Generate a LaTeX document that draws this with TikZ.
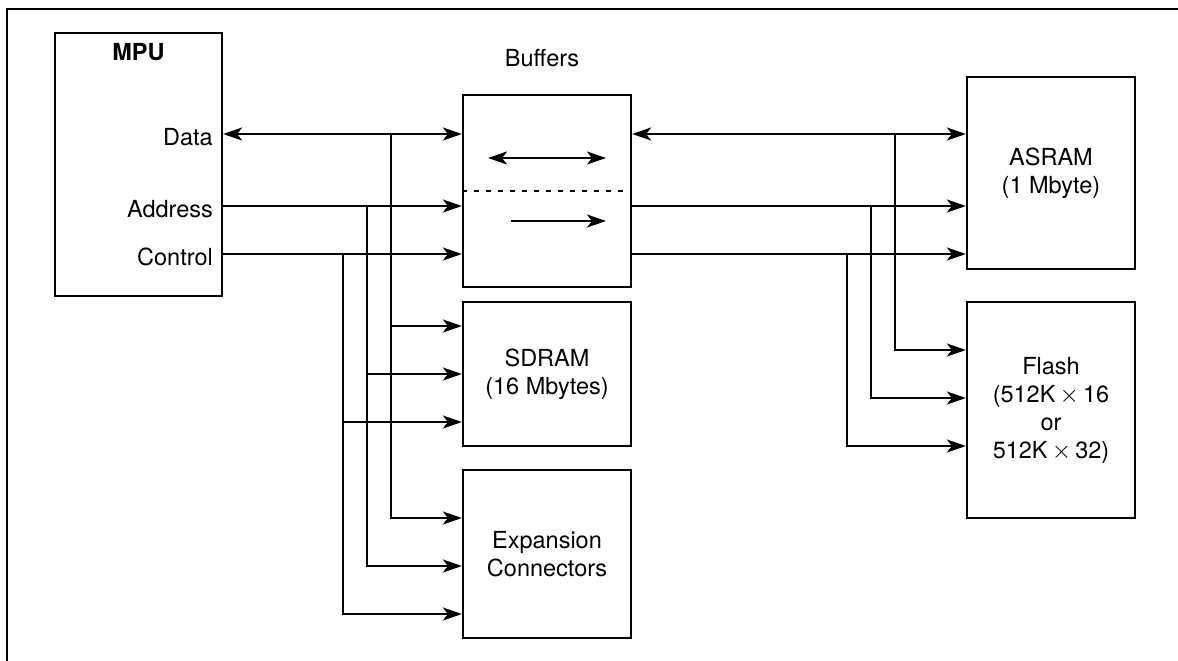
\documentclass[tikz,border=0pt]{standalone}
\usepackage{fontspec}
\setmainfont{TeX Gyre Heros}
\usetikzlibrary{arrows.meta}
\begin{document}
\begin{tikzpicture}[x=1pt,y=-1pt,
  txt/.style={font=\fontsize{23.5}{28}\selectfont, inner sep=0pt},
  blk/.style={draw, line width=2.2pt, txt, align=center, minimum width=168pt, anchor=center},
  bus/.style={line width=2.2pt},
  arr/.style={-{Stealth[length=19pt,width=13pt,inset=5pt]}},
  biarr/.style={{Stealth[length=19pt,width=13pt,inset=5pt]}-{Stealth[length=19pt,width=13pt,inset=5pt]}},
  dashline/.style={line width=2.2pt, dash pattern=on 5pt off 7pt},
]
\useasboundingbox (0,0) rectangle (1178,661);
% frame
\draw[line width=2.2pt] (1178,9) -- (7,9) -- (7,661);

% blocks
\node[blk, minimum width=167pt, minimum height=263pt] (mpu) at (138.5,164.5) {};
\node[txt, font=\fontsize{23.5}{28}\selectfont\bfseries, anchor=base] (mpuL) at (138.5,61) {MPU};
\node[txt, anchor=base east] (dataL) at (213,145) {Data};
\node[txt, anchor=base east] (addrL) at (213,217) {Address};
\node[txt, anchor=base east] (ctrlL) at (213,265) {Control};

\node[blk, minimum height=192pt] (buf) at (547,191) {};
\node[txt, anchor=base] (bufL) at (542,66.5) {Buffers};
\node[blk, minimum height=144pt] (sdram) at (547,374) {SDRAM\\(16 Mbytes)};
\node[blk, minimum height=168pt] (exp) at (547,554) {Expansion\\Connectors};
\node[blk, minimum height=192pt] (asram) at (1051,173) {ASRAM\\(1 Mbyte)};
\node[blk, minimum height=216pt] (flash) at (1051,410) {Flash\\(512K$\,\times\,$16\\or\\512K$\,\times\,$32)};

% inside buffers
\coordinate (bi1) at (488,158);
\coordinate (bi2) at (606,158);
\coordinate (bo1) at (511,221);
\coordinate (bo2) at (606,221);
\draw[bus,biarr] (bi1) -- (bi2);
\draw[bus,arr] (bo1) -- (bo2);
\draw[dashline] (buf.west |- 0,191) -- (buf.east |- 0,191);

% bus levels
\coordinate (yD) at (0,134);
\coordinate (yA) at (0,206);
\coordinate (yC) at (0,254);

% left buses
\draw[bus,biarr] (mpu.east |- yD) -- (buf.west |- yD);
\draw[bus,arr] (mpu.east |- yA) -- (buf.west |- yA);
\draw[bus,arr] (mpu.east |- yC) -- (buf.west |- yC);

\coordinate (lD) at (391,134);
\coordinate (lA) at (367,206);
\coordinate (lC) at (343,254);
\draw[bus,arr] (lD) |- (sdram.west |- 0,326);
\draw[bus,arr] (lD) |- (exp.west |- 0,518);
\draw[bus,arr] (lA) |- (sdram.west |- 0,374);
\draw[bus,arr] (lA) |- (exp.west |- 0,566);
\draw[bus,arr] (lC) |- (sdram.west |- 0,422);
\draw[bus,arr] (lC) |- (exp.west |- 0,614);

% right buses
\draw[bus,biarr] (buf.east |- yD) -- (asram.west |- yD);
\draw[bus,arr] (buf.east |- yA) -- (asram.west |- yA);
\draw[bus,arr] (buf.east |- yC) -- (asram.west |- yC);

\coordinate (rD) at (895,134);
\coordinate (rA) at (871,206);
\coordinate (rC) at (847,254);
\draw[bus,arr] (rD) |- (flash.west |- 0,350);
\draw[bus,arr] (rA) |- (flash.west |- 0,398);
\draw[bus,arr] (rC) |- (flash.west |- 0,446);
\end{tikzpicture}
\end{document}
